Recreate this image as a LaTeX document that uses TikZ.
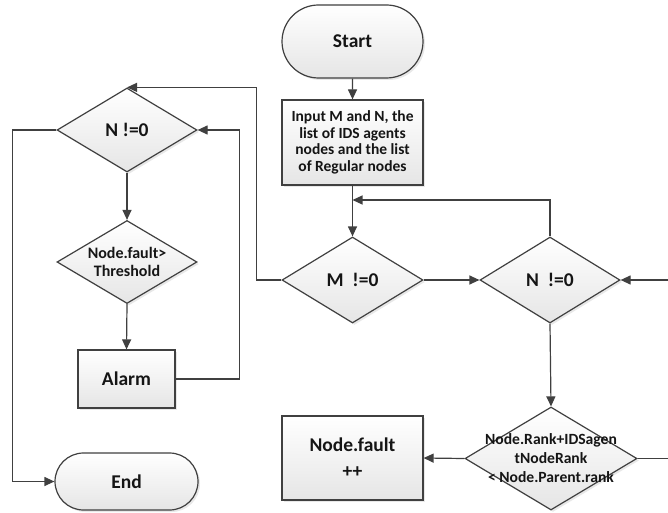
\documentclass[tikz,border=0pt]{standalone}
\usepackage{fontspec}
\setmainfont{Carlito}
\usetikzlibrary{shapes.geometric,shapes.misc,arrows.meta,shadows,calc}
\definecolor{lin}{HTML}{404040}
\definecolor{txt}{HTML}{151515}
\tikzset{
  base/.style={draw=lin, line width=1.2pt, top color=white, bottom color=black!10,
    drop shadow={shadow xshift=2pt, shadow yshift=-2pt, opacity=0.18},
    inner sep=0pt, text=txt, font=\bfseries\fontsize{19.5}{21}\selectfont, align=center},
  term/.style={base, rounded rectangle},
  proc/.style={base, rectangle},
  dec/.style={base, diamond},
  lbl/.style={text=txt, align=center, inner sep=0pt},
  arr/.style={draw=lin, line width=1.2pt, -{Triangle[length=10pt,width=9pt]}},
  ln/.style={draw=lin, line width=1.2pt},
}
\begin{document}
\begin{tikzpicture}[x=1pt,y=-1pt]
\useasboundingbox (0,0) rectangle (668,513);
% right column
\node[term, minimum width=141pt, minimum height=73pt] (start) at (352.5,41.5) {Start};
\node[proc, minimum width=141pt, minimum height=85pt,
      font=\bfseries\fontsize{15.5}{16.7}\selectfont] (input) at (352.5,142.5)
      {Input M and N, the\\list of IDS agents\\nodes and the list\\of Regular nodes};
\node[dec, minimum width=141pt, minimum height=86pt,
      label={[lbl,font=\bfseries\fontsize{19.5}{21}\selectfont]center:M\ \ !=0}] (M) at (352.5,280) {};
\node[dec, minimum width=140pt, minimum height=86pt,
      label={[lbl,font=\bfseries\fontsize{19.5}{21}\selectfont]center:N\ \ !=0}] (N) at (550,280) {};
\node[dec, minimum width=172pt, minimum height=103pt,
      label={[lbl,font=\bfseries\fontsize{15.6}{19}\selectfont]center:Node.Rank+IDSagen\\tNodeRank\\< Node.Parent.rank}] (cond) at (551,458.5) {};
\node[proc, minimum width=141pt, minimum height=84pt,
      font=\bfseries\fontsize{19.5}{26}\selectfont] (fault) at (352.5,458) {Node.fault\\++};
% left column
\node[dec, minimum width=140pt, minimum height=84pt,
      label={[lbl,font=\bfseries\fontsize{19.5}{21}\selectfont]center:N !=0}] (N1) at (127,130) {};
\node[dec, minimum width=140pt, minimum height=83pt,
      label={[lbl,font=\bfseries\fontsize{16}{18}\selectfont]center:Node.fault>\\Threshold}] (th) at (127,262) {};
\node[proc, minimum width=97pt, minimum height=58pt] (alarm) at (126.5,379) {Alarm};
\node[term, minimum width=143pt, minimum height=57pt] (end) at (126.5,481.5) {End};
% coordinates
\coordinate (j1) at (352.5,200);
\coordinate (rin) at (668,280);
\coordinate (rout) at (668,458.5);
% connectors
\draw[arr] (start) -- (input);
\draw[arr] (input) -- (M);
\draw[arr] (N.north) |- (j1);
\draw[arr] (M.east) -- (N.west);
\draw[arr] (rin) -- (N.east);
\draw[arr] (N.south) -- (cond.north);
\draw[ln] (cond.east) -- (rout);
\draw[arr] (cond.west) -- (fault.east);
\draw[arr] (M.west) -- ++(-25,0) |- (N1.north);
\draw[arr] (N1.south) -- (th.north);
\draw[arr] (th.south) -- (alarm.north);
\draw[arr] (alarm.east) -- ++(64,0) |- (N1.east);
\draw[arr] (N1.west) -- ++(-44,0) |- (end.west);
\end{tikzpicture}
\end{document}
